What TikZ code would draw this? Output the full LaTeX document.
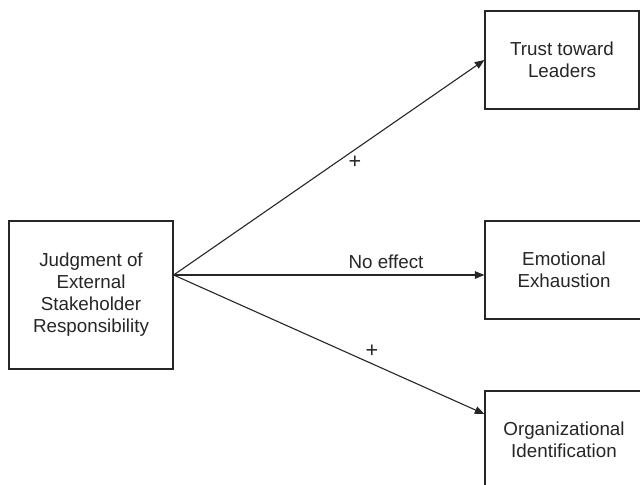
\documentclass[tikz,border=0pt]{standalone}
\usepackage{fontspec}
\setmainfont{Liberation Sans}
\usepackage{tikz}
\usetikzlibrary{arrows.meta,calc}
\tikzset{
    x=0.5pt, y=0.5pt, % one unit is one pixel of the reference
    }

\begin{document}
\begin{tikzpicture}[
boxnode/.style={rectangle, draw=black!85, line width=0.6pt, align=center, text=black!85, font=\fontsize{9.4}{11}\selectfont},
linkarrow/.style={draw=black!85, line width=0.55pt, -{Triangle[length=4.8pt,width=3.8pt]}},
signlabel/.style={text=black!85, font=\fontsize{9.4}{11}\selectfont, inner sep=0pt},
]
\clip (0,0) rectangle (640,484);
\useasboundingbox (0,0) rectangle (640,484);

\node[boxnode, minimum width=82pt, minimum height=74pt] (judg) at (91,189) {Judgment of\\External\\Stakeholder\\Responsibility};
\node[boxnode, minimum width=77pt, minimum height=49pt] (trust) at (562,424) {Trust toward\\Leaders};
\node[boxnode, minimum width=79pt, minimum height=49pt] (emo) at (564,214) {Emotional\\Exhaustion};
\node[boxnode, minimum width=79pt, minimum height=49pt] (org) at (564,44) {Organizational\\Identification};

\coordinate (src) at ($(judg.east)+(0,20)$);
\coordinate (orgin) at ($(org.west)+(0,26)$);

\draw[linkarrow] (src) -- (trust.west);
\draw[linkarrow] (src) -- (src -| emo.west);
\draw[linkarrow] (src) -- (orgin);

\node[signlabel, font=\fontsize{10.8}{11}\selectfont] (plustop) at (355,322) {+};
\node[signlabel] (noeffect) at (386,222) {No effect};
\node[signlabel, font=\fontsize{10.8}{11}\selectfont] (plusbot) at (372,133) {+};
\end{tikzpicture}
\end{document}
